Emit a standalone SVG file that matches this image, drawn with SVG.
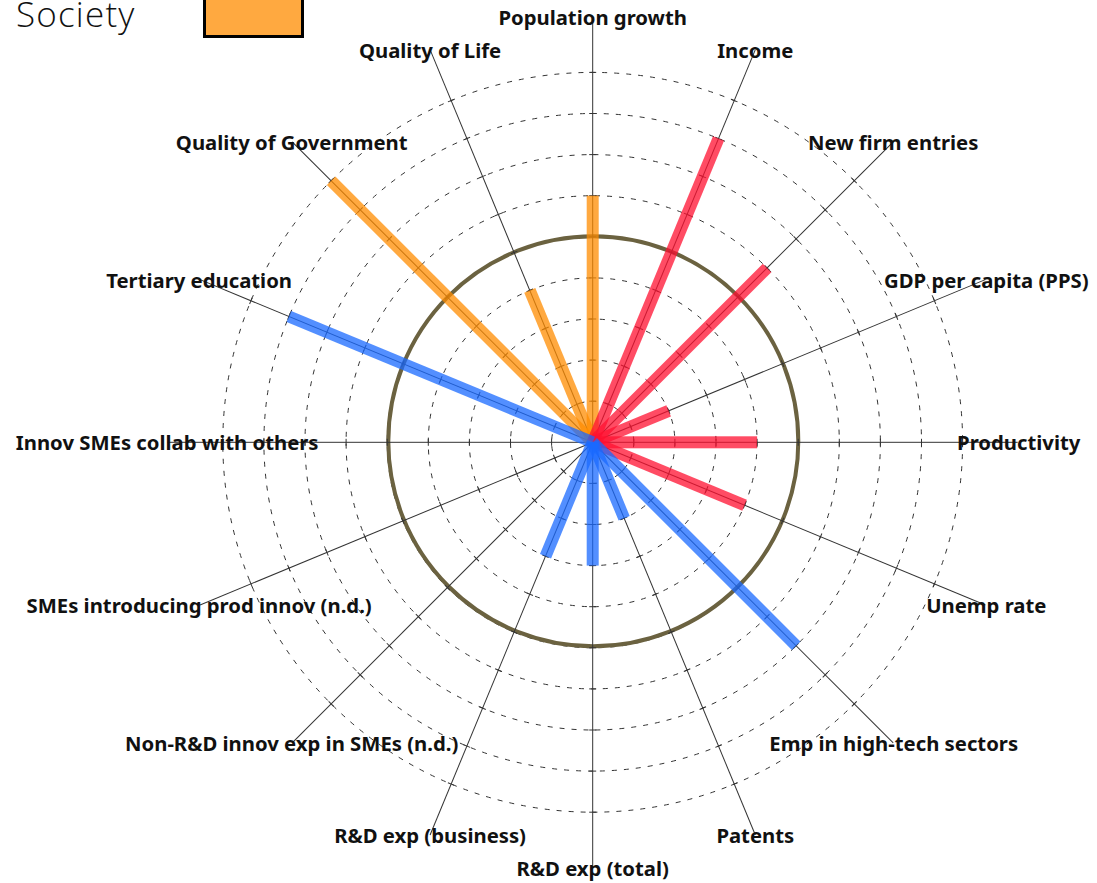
<svg xmlns="http://www.w3.org/2000/svg" width="1097" height="883" viewBox="0 0 1097 883">
<style>
.grid{fill:none;stroke:#333;stroke-width:1;stroke-dasharray:5,7}
.ref{fill:none;stroke:#6b6240;stroke-width:4}
.axis{stroke:#333;stroke-width:1}
.tick{stroke:#333;stroke-width:1}
.bar{opacity:0.75}
.soc{fill:#ff8c00}
.eco{fill:#ff1030}
.inn{fill:#1a6aff}
.lbl{font-family:"Noto Sans","Open Sans","DejaVu Sans",sans-serif;font-weight:bold;font-size:20.3px;fill:#111;text-anchor:middle}
.leg{font-family:"Open Sans","Noto Sans",sans-serif;font-weight:300;font-size:35px;letter-spacing:1.2px;fill:#111}
</style>
<defs>
<g id="ticks">
<line class="tick" x1="41.1" y1="-3.5" x2="41.1" y2="3.5"/>
<line class="tick" x1="82.2" y1="-3.5" x2="82.2" y2="3.5"/>
<line class="tick" x1="123.3" y1="-3.5" x2="123.3" y2="3.5"/>
<line class="tick" x1="164.4" y1="-3.5" x2="164.4" y2="3.5"/>
<line class="tick" x1="205.5" y1="-3.5" x2="205.5" y2="3.5"/>
<line class="tick" x1="246.6" y1="-3.5" x2="246.6" y2="3.5"/>
<line class="tick" x1="287.7" y1="-3.5" x2="287.7" y2="3.5"/>
<line class="tick" x1="328.8" y1="-3.5" x2="328.8" y2="3.5"/>
<line class="tick" x1="369.9" y1="-3.5" x2="369.9" y2="3.5"/>
</g>
<g id="ax">
<line class="axis" x1="0" y1="0" x2="425" y2="0"/>
<use href="#ticks"/>
</g>
</defs>

<g id="legend">
<text class="leg" x="16" y="27">Society</text>
<rect x="204.5" y="-10" width="98" height="46.5" fill="#ffa940" stroke="#000" stroke-width="3"/>
</g>

<g id="grid" transform="translate(592.7,442.3)">
<circle class="grid" r="41.1"/>
<circle class="grid" r="82.2"/>
<circle class="grid" r="123.3"/>
<circle class="grid" r="164.4"/>
<circle class="grid" r="205.5"/>
<circle class="grid" r="246.6"/>
<circle class="grid" r="287.7"/>
<circle class="grid" r="328.8"/>
<circle class="grid" r="369.9"/>
</g>
<circle id="reference-circle" class="ref" cx="593.3" cy="441.3" r="205"/>

<g id="connectors" transform="translate(592.7,442.3)">
<use href="#ax" transform="rotate(-90)"/>
<use href="#ax" transform="rotate(-67.5)"/>
<use href="#ax" transform="rotate(-45)"/>
<use href="#ax" transform="rotate(-22.5)"/>
<use href="#ax" transform="rotate(0)"/>
<use href="#ax" transform="rotate(22.5)"/>
<use href="#ax" transform="rotate(45)"/>
<use href="#ax" transform="rotate(67.5)"/>
<use href="#ax" transform="rotate(90)"/>
<use href="#ax" transform="rotate(112.5)"/>
<use href="#ax" transform="rotate(135)"/>
<use href="#ax" transform="rotate(157.5)"/>
<use href="#ax" transform="rotate(180)"/>
<use href="#ax" transform="rotate(202.5)"/>
<use href="#ax" transform="rotate(225)"/>
<use href="#ax" transform="rotate(247.5)"/>
</g>

<g id="bars" transform="translate(592.7,442.3)">
<g id="bar-population-growth"><rect class="bar soc" transform="rotate(-90)" x="0" y="-6" width="246.6" height="12"/></g>
<g id="bar-quality-of-life"><rect class="bar soc" transform="rotate(-112.5)" x="0" y="-6" width="164.4" height="12"/></g>
<g id="bar-quality-of-government"><rect class="bar soc" transform="rotate(-135)" x="0" y="-6" width="369.9" height="12"/></g>
<g id="bar-income"><rect class="bar eco" transform="rotate(-67.5)" x="0" y="-6" width="328.8" height="12"/></g>
<g id="bar-new-firm-entries"><rect class="bar eco" transform="rotate(-45)" x="0" y="-6" width="246.6" height="12"/></g>
<g id="bar-gdp"><rect class="bar eco" transform="rotate(-22.5)" x="0" y="-6" width="82.2" height="12"/></g>
<g id="bar-productivity"><rect class="bar eco" transform="rotate(0)" x="0" y="-6" width="164.4" height="12"/></g>
<g id="bar-unemp-rate"><rect class="bar eco" transform="rotate(22.5)" x="0" y="-6" width="164.4" height="12"/></g>
<g id="bar-tertiary-education"><rect class="bar inn" transform="rotate(-157.5)" x="0" y="-6" width="328.8" height="12"/></g>
<g id="bar-emp-high-tech"><rect class="bar inn" transform="rotate(45)" x="0" y="-6" width="287.7" height="12"/></g>
<g id="bar-patents"><rect class="bar inn" transform="rotate(67.5)" x="0" y="-6" width="82.2" height="12"/></g>
<g id="bar-rd-total"><rect class="bar inn" transform="rotate(90)" x="0" y="-6" width="123.3" height="12"/></g>
<g id="bar-rd-business"><rect class="bar inn" transform="rotate(112.5)" x="0" y="-6" width="123.3" height="12"/></g>
</g>

<g id="labels">
<g id="n-population-growth"><text class="lbl" x="592.7" y="25">Population growth</text></g>
<g id="n-income"><text class="lbl" x="755.3" y="57.5">Income</text></g>
<g id="n-new-firm-entries"><text class="lbl" x="893.2" y="149.5">New firm entries</text></g>
<g id="n-gdp"><text class="lbl" x="986.3" y="287.5">GDP per capita (PPS)</text></g>
<g id="n-productivity"><text class="lbl" x="1018.7" y="450">Productivity</text></g>
<g id="n-unemp-rate"><text class="lbl" x="986.3" y="612.5">Unemp rate</text></g>
<g id="n-emp-high-tech"><text class="lbl" x="893.7" y="751">Emp in high-tech sectors</text></g>
<g id="n-patents"><text class="lbl" x="755.3" y="843">Patents</text></g>
<g id="n-rd-total"><text class="lbl" x="592.7" y="875.5">R&amp;D exp (total)</text></g>
<g id="n-rd-business"><text class="lbl" x="430.1" y="843">R&amp;D exp (business)</text></g>
<g id="n-non-rd"><text class="lbl" x="291.7" y="751">Non-R&amp;D innov exp in SMEs (n.d.)</text></g>
<g id="n-smes-prod"><text class="lbl" x="199.1" y="612.5">SMEs introducing prod innov (n.d.)</text></g>
<g id="n-innov-collab"><text class="lbl" x="167.2" y="450">Innov SMEs collab with others</text></g>
<g id="n-tertiary"><text class="lbl" x="199.1" y="287.5">Tertiary education</text></g>
<g id="n-qog"><text class="lbl" x="291.7" y="149.5">Quality of Government</text></g>
<g id="n-qol"><text class="lbl" x="430.1" y="57.5">Quality of Life</text></g>
</g>
</svg>
